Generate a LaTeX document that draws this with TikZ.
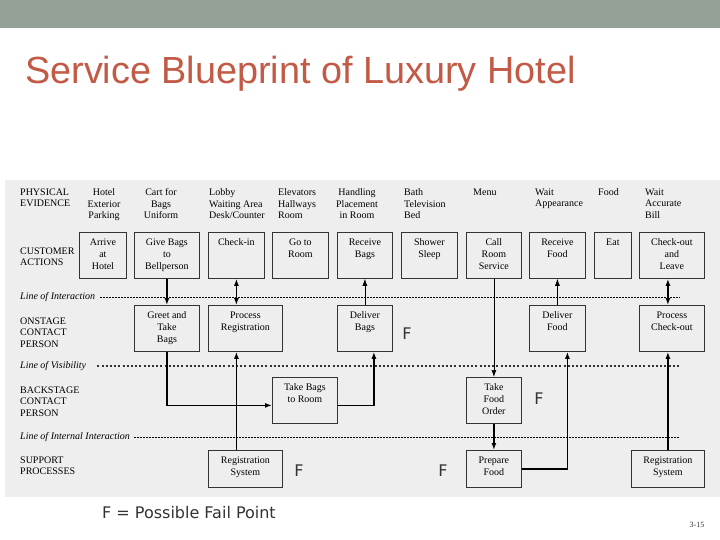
\documentclass[tikz,border=0pt]{standalone}
\usepackage{fontspec}
\setmainfont{Liberation Serif}
\newfontfamily\slidefont{Liberation Sans}
\newfontfamily\notefont{DejaVu Sans}
\usetikzlibrary{arrows.meta,positioning,calc}
\definecolor{slidebar}{HTML}{94A197}
\definecolor{titlered}{HTML}{C25A46}
\definecolor{panel}{HTML}{EEEEEE}
\newcommand{\boxlines}[1]{\begin{tabular}[t]{@{}c@{}}#1\end{tabular}}

\begin{document}
\begin{tikzpicture}[x=1pt,y=-1pt,>={Latex[length=7pt,width=5pt]},
  stepbox/.style={draw=black!80,line width=.8pt,anchor=north west,
    font=\fontsize{10}{12}\selectfont,inner xsep=2pt,inner ysep=3pt,text height=10pt},
  tall/.style={stepbox,text depth=30pt},
  short/.style={stepbox,text depth=21pt},
  rowlbl/.style={anchor=north west,align=left,inner sep=0pt,font=\fontsize{10}{11.5}\selectfont},
  evid/.style={rowlbl},
  linelbl/.style={anchor=west,inner sep=0pt,font=\fontsize{10}{12}\selectfont\itshape},
  flow/.style={->,line width=1.3pt},
  thinflow/.style={->,line width=.7pt},
  failpt/.style={font=\notefont\fontsize{16}{18}\selectfont,text=black!80,inner sep=0pt},
  interact/.style={line width=.9pt,dash pattern=on 2pt off 1pt},
  visible/.style={line width=2.2pt,dash pattern=on 2pt off 2.2pt,black!80},
  internal/.style={line width=.5pt,dash pattern=on 2pt off 1pt}]
 \useasboundingbox (0,0) rectangle (720,540);
 \fill[white] (0,0) rectangle (720,540);
 \fill[slidebar] (0,0) rectangle (720,28);
 \node[anchor=base west,inner sep=0pt,font=\slidefont\fontsize{37.8}{40}\selectfont,text=titlered] (title) at (25,84) {Service Blueprint of Luxury Hotel};
 \fill[panel] (5,180) rectangle (720,497);

 % row names and lines
 \node[rowlbl] (physlbl) at (20,188.5) {PHYSICAL\\EVIDENCE};
 \node[rowlbl] (custlbl) at (20,247.5) {CUSTOMER\\ACTIONS};
 \node[rowlbl] (onlbl) at (20,317.5) {ONSTAGE\\CONTACT\\PERSON};
 \node[rowlbl] (backlbl) at (20,386.5) {BACKSTAGE\\CONTACT\\PERSON};
 \node[rowlbl] (supplbl) at (20,456.5) {SUPPORT\\PROCESSES};
 \node[linelbl] (loi) at (20,297) {Line of Interaction};
 \node[linelbl] (lov) at (20,366) {Line of Visibility};
 \node[linelbl] (lii) at (20,437) {Line of Internal Interaction};
 \coordinate (lineend) at (680,0);
 \draw[interact] ([xshift=5pt]loi.east) -- (loi.east -| lineend);
 \draw[visible] ([xshift=11pt]lov.east) -- (lov.east -| lineend);
 \draw[internal] ([xshift=4pt]lii.east) -- (lii.east -| lineend);

 % physical evidence
 \node[evid,anchor=north,align=center] (evhotel) at (104,188.5) {Hotel\\Exterior\\Parking};
 \node[evid,anchor=north,align=center] (evcart) at (161,188.5) {Cart for\\Bags\\Uniform};
 \node[evid] (evlobby) at (209,188.5) {Lobby\\Waiting Area\\Desk/Counter};
 \node[evid] (evelev) at (278,188.5) {Elevators\\Hallways\\Room};
 \node[evid,anchor=north,align=center] (evhandl) at (357,188.5) {Handling\\Placement\\in Room};
 \node[evid] (evbath) at (404,188.5) {Bath\\Television\\Bed};
 \node[evid] (evmenu) at (473,188.5) {Menu};
 \node[evid] (evwait) at (535,188.5) {Wait\\Appearance};
 \node[evid] (evfood) at (598,188.5) {Food};
 \node[evid] (evbill) at (645,188.5) {Wait\\Accurate\\Bill};

 % boxes, row by row
 \foreach \n/\x/\w/\t in {arrive/79/47/{Arrive\\at\\Hotel}, givebags/134/65/{Give Bags\\to\\Bellperson},
   checkin/208/56/{Check-in}, goroom/272/56/{Go to\\Room}, recbags/337/55/{Receive\\Bags},
   shower/401/56/{Shower\\Sleep}, callrs/466/55/{Call\\Room\\Service}, recfood/529/56/{Receive\\Food},
   eat/594/37/{Eat}, checkout/639/65/{Check-out\\and\\Leave}}
   \node[tall,minimum width=\w] (\n) at (\x,232) {\boxlines{\t}};
 \foreach \n/\x/\w/\t in {greet/134/65/{Greet and\\Take\\Bags}, procreg/208/74/{Process\\Registration},
   delbags/337/55/{Deliver\\Bags}, delfood/529/56/{Deliver\\Food}, proccheck/639/65/{Process\\Check-out}}
   \node[tall,minimum width=\w] (\n) at (\x,305) {\boxlines{\t}};
 \foreach \n/\x/\w/\t in {takebags/272/65/{Take Bags\\to Room}, takefood/466/55/{Take\\Food\\Order}}
   \node[tall,minimum width=\w] (\n) at (\x,377) {\boxlines{\t}};
 \foreach \n/\x/\w/\t in {regsys/208/74/{Registration\\System}, prepfood/466/55/{Prepare\\Food},
   regsysb/631/73/{Registration\\System}}
   \node[short,minimum width=\w] (\n) at (\x,450) {\boxlines{\t}};

 % connectors
 \draw[flow] (givebags) -- (greet);
 \draw[flow,<->] (checkin.south) -- (checkin.south |- procreg.north);
 \draw[flow] (checkin.south |- regsys.north) -- (checkin.south |- procreg.south);
 \draw[flow] (greet.south) |- ([yshift=-5pt]takebags.west);
 \draw[flow] ([yshift=-5pt]takebags.east) -| ([xshift=9pt]delbags.south);
 \draw[thinflow] (delbags) -- (recbags);
 \draw[thinflow] (callrs) -- (takefood);
 \draw[flow] (takefood) -- (prepfood);
 \draw[flow] (prepfood.east) -| ([xshift=10pt]delfood.south);
 \draw[thinflow] (delfood) -- (recfood);
 \draw[flow,<->] (checkout.south -| regsysb.north) -- (proccheck.north -| regsysb.north);
 \draw[flow] (regsysb) -- (regsysb |- proccheck.south);

 % fail points
 \node[failpt] (fbags) at (407,334) {F};
 \node[failpt] (forder) at (539,399) {F};
 \node[failpt] (freg) at (299,471) {F};
 \node[failpt] (fprep) at (443,471) {F};
 \node[failpt,anchor=west] (legend) at (102,513) {F = Possible Fail Point};
 \node[font=\fontsize{8}{9}\selectfont,text=black!80,inner sep=0pt] (pageno) at (697,525) {3-15};
\end{tikzpicture}
\end{document}
